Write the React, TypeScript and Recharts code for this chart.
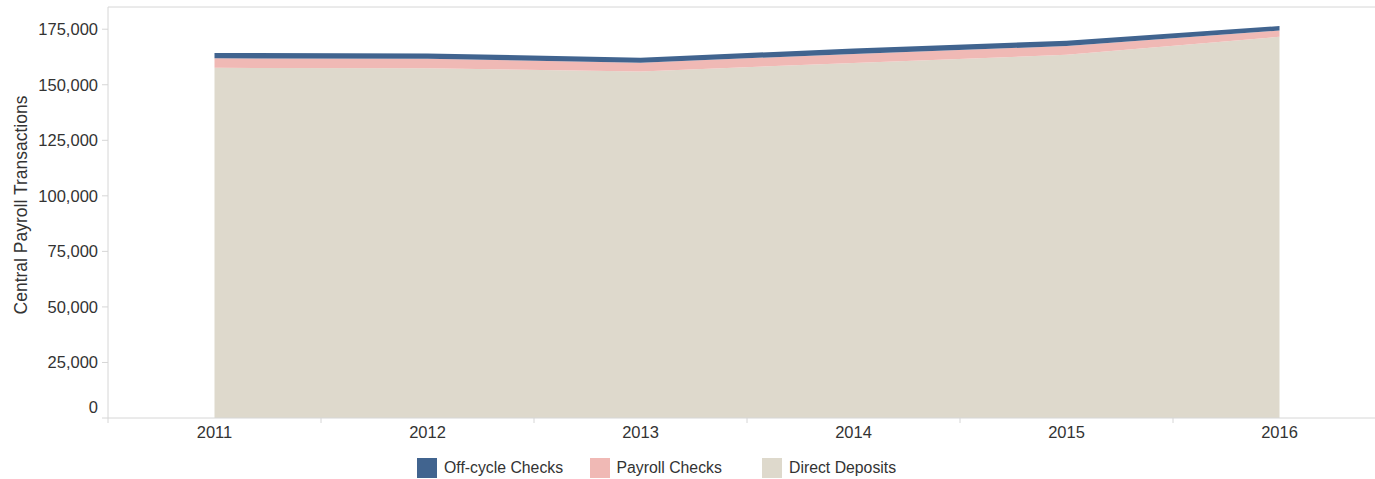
import React from 'react';
import { AreaChart, Area, XAxis, YAxis, Legend, ReferenceLine } from 'recharts';

// Years on the x axis
const years = [2011, 2012, 2013, 2014, 2015, 2016];

// Stacked series (bottom to top)
const directDeposits = [157600, 157400, 156000, 159800, 163500, 171600];
const payrollChecks = [4300, 4300, 3900, 4100, 3900, 2800];
const offCycleChecks = [2400, 2400, 2300, 2400, 2400, 2000];

const yTicks = [0, 25000, 50000, 75000, 100000, 125000, 150000, 175000];
// labels at the years, tick marks between them
const xTicks = [2010.5, 2011, 2011.5, 2012, 2012.5, 2013, 2013.5, 2014, 2014.5, 2015, 2015.5, 2016, 2016.5];

const COLORS = {
  offCycle: '#41648f',
  payroll: '#f0b9b5',
  direct: '#ded9cc',
};

const legendItems = [
  { name: 'Off-cycle Checks', color: COLORS.offCycle },
  { name: 'Payroll Checks', color: COLORS.payroll },
  { name: 'Direct Deposits', color: COLORS.direct },
];

const FONT = '"Liberation Sans", Arial, sans-serif';
const TEXT = '#333333';
const AXIS = '#d6d6d6';

const data = years.map((year, i) => ({
  year,
  direct: directDeposits[i],
  payroll: payrollChecks[i],
  offCycle: offCycleChecks[i],
}));

const fmt = (v: number) => v.toLocaleString('en-US');

function XTick(props: any) {
  const { x, y, payload } = props;
  const v = payload.value as number;
  if (v % 1 !== 0) {
    // separator tick mark below the axis line
    return <line x1={x} x2={x} y1={y - 8} y2={y - 3} stroke={AXIS} strokeWidth={1} />;
  }
  return (
    <text x={x} y={y} dy="0.71em" textAnchor="middle" fill={TEXT} fontSize={16.5} fontFamily={FONT}>
      {v}
    </text>
  );
}

function YTick(props: any) {
  const { x, y, payload } = props;
  const v = payload.value as number;
  const shift = v === 0 ? -11 : 0;
  return (
    <text x={x} y={y + shift} dy="0.355em" textAnchor="end" fill={TEXT} fontSize={16.5} fontFamily={FONT}>
      {fmt(v)}
    </text>
  );
}

function LegendContent() {
  return (
    <div style={{ display: 'flex', alignItems: 'center', fontFamily: FONT, fontSize: 15.8, color: TEXT }}>
      {legendItems.map((item) => (
        <div key={item.name} style={{ display: 'flex', alignItems: 'center', width: 172.5 }}>
          <span style={{ width: 20, height: 20, background: item.color, display: 'inline-block', marginRight: 7 }} />
          <span>{item.name}</span>
        </div>
      ))}
    </div>
  );
}

export default function App() {
  return (
    <div style={{ position: 'absolute', left: 0, top: 0, width: 1375, height: 479, overflow: 'hidden', background: '#fff' }}>
      <AreaChart width={1390} height={479} data={data} margin={{ top: 7, right: 4, bottom: 0, left: 0 }}>
        <XAxis
          dataKey="year"
          type="number"
          domain={[2010.5, 2016.5]}
          ticks={xTicks}
          interval={0}
          tick={<XTick />}
          tickLine={false}
          axisLine={{ stroke: AXIS }}
          height={61}
        />
        <YAxis
          type="number"
          domain={[0, 185000]}
          ticks={yTicks}
          interval={0}
          width={108}
          tick={<YTick />}
          tickSize={6}
          tickMargin={4}
          tickLine={{ stroke: AXIS }}
          axisLine={{ stroke: AXIS }}
          label={{
            value: 'Central Payroll Transactions',
            content: () => (
              <text
                x={21}
                y={205}
                transform="rotate(-90, 21, 205)"
                textAnchor="middle"
                dominantBaseline="central"
                fill={TEXT}
                fontSize={17.5}
                fontFamily={FONT}
              >
                Central Payroll Transactions
              </text>
            ),
          }}
        />
        <ReferenceLine y={185000} stroke={AXIS} />
        <Area type="linear" dataKey="direct" name="Direct Deposits" stackId="a" stroke="none" fill={COLORS.direct} fillOpacity={1} isAnimationActive={false} />
        <Area type="linear" dataKey="payroll" name="Payroll Checks" stackId="a" stroke="none" fill={COLORS.payroll} fillOpacity={1} isAnimationActive={false} />
        <Area type="linear" dataKey="offCycle" name="Off-cycle Checks" stackId="a" stroke="none" fill={COLORS.offCycle} fillOpacity={1} isAnimationActive={false} />
        <Legend
          layout="horizontal"
          verticalAlign="middle"
          align="center"
          content={<LegendContent />}
          wrapperStyle={{ left: 417, top: 458, width: 600 }}
        />
      </AreaChart>
    </div>
  );
}
